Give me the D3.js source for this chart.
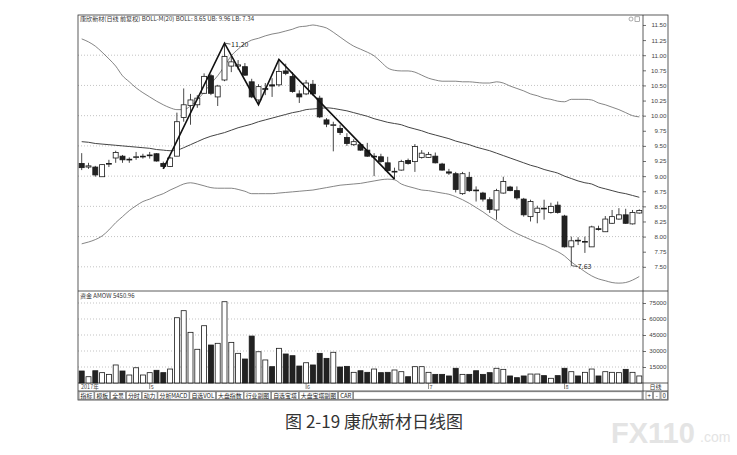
<!DOCTYPE html>
<html><head><meta charset="utf-8">
<script src="https://cdn.jsdelivr.net/npm/d3@7"></script>
<style>
body{margin:0;background:#fff;}
svg{display:block;font-family:"Noto Sans CJK SC","Noto Sans",sans-serif;}
</style>
</head><body>
<svg id="c" width="737" height="455"></svg>
<script>
// ---------------- data ----------------
const opens  = [9.21,9.15,9.15,8.99,9.20,9.30,9.33,9.27,9.31,9.32,
  9.34,9.37,9.21,9.16,9.33,9.97,10.17,10.18,10.37,10.66,
  10.31,10.59,10.82,10.82,10.81,10.56,10.26,10.43,10.51,10.51,
  10.74,10.65,10.36,10.36,10.52,10.29,9.93,9.84,9.79,9.64,
  9.52,9.52,9.43,9.32,9.32,9.22,9.07,9.10,9.26,9.24,
  9.31,9.31,9.33,9.20,9.07,9.04,8.71,8.98,8.77,8.72,
  8.61,8.44,8.72,8.82,8.76,8.62,8.33,8.40,8.47,8.40,
  8.52,8.34,7.83,7.94,7.91,7.83,8.13,8.08,8.22,8.29,
  8.36,8.21,8.39];
const closes = [9.14,9.17,9.02,9.19,9.21,9.39,9.27,9.28,9.32,9.33,
  9.35,9.25,9.16,9.30,9.90,10.18,10.26,10.29,10.65,10.37,
  10.49,10.98,10.89,10.84,10.67,10.31,10.48,10.45,10.49,10.73,
  10.70,10.40,10.31,10.54,10.36,9.98,9.86,9.85,9.72,9.54,
  9.57,9.43,9.33,9.33,9.24,9.09,9.08,9.24,9.21,9.49,
  9.38,9.36,9.22,9.10,9.05,8.78,9.04,8.76,8.76,8.62,
  8.45,8.76,8.91,8.76,8.64,8.36,8.58,8.47,8.46,8.50,
  8.40,7.83,7.93,7.93,7.92,8.16,8.12,8.29,8.33,8.36,
  8.22,8.40,8.43];
const highs  = [9.38,9.22,9.17,9.20,9.27,9.42,9.35,9.31,9.40,9.37,
  9.40,9.38,9.24,9.32,10.05,10.45,10.36,10.34,10.70,10.69,
  10.51,11.20,10.97,10.92,10.87,10.61,10.52,10.54,10.62,10.93,
  10.86,10.72,10.42,10.59,10.59,10.33,9.96,9.90,9.85,9.71,
  9.61,9.55,9.55,9.38,9.37,9.32,9.14,9.27,9.29,9.53,
  9.43,9.40,9.39,9.22,9.12,9.07,9.07,9.07,8.83,8.74,
  8.65,8.79,8.99,8.84,8.83,8.64,8.61,8.51,8.61,8.56,
  8.58,8.36,8.00,7.99,8.00,8.18,8.18,8.34,8.44,8.47,
  8.46,8.44,8.45];
const lows   = [9.10,9.12,8.99,8.99,9.15,9.22,9.22,9.22,9.27,9.29,
  9.29,9.24,9.12,9.15,9.33,9.90,9.85,10.13,10.36,10.34,
  10.16,10.57,10.72,10.76,10.66,10.29,10.18,10.34,10.31,10.48,
  10.67,10.38,10.21,10.34,10.33,9.96,9.81,9.41,9.68,9.50,
  9.50,9.42,9.32,9.00,9.22,9.05,8.95,9.09,9.19,9.07,
  9.29,9.30,9.21,9.09,9.02,8.73,8.69,8.74,8.58,8.58,
  8.39,8.28,8.71,8.75,8.61,8.33,8.25,8.22,8.28,8.38,
  8.38,7.82,7.52,7.86,7.73,7.83,8.10,8.08,8.21,8.28,
  8.21,8.20,8.38];
const volumes = [11250,5900,11500,9700,8100,16900,11250,7500,14300,7500,
  9700,11900,9700,13100,61200,67800,47500,31600,53700,35600,
  37200,76200,38100,27800,22500,44000,29300,21600,15300,32500,
  27200,25600,15900,19000,16900,27800,23100,28800,15000,15600,
  10000,11500,10000,13100,9700,10000,12200,10600,5900,15300,
  15300,10000,8100,8100,6600,13800,8100,8100,11500,8100,
  9700,13800,12800,6600,5000,6600,8400,8400,6900,4400,
  6900,13800,10600,6600,10000,13100,6600,10600,10000,9700,
  12800,10000,6600];
const bollUpper = [11.27,11.22,11.15,11.05,10.94,10.82,10.66,10.56,10.46,10.38,
  10.31,10.24,10.18,10.13,10.10,10.10,10.16,10.26,10.39,10.53,
  10.66,10.82,10.99,11.10,11.19,11.25,11.28,11.32,11.35,11.37,
  11.40,11.43,11.47,11.48,11.50,11.48,11.45,11.38,11.30,11.22,
  11.15,11.10,11.05,10.99,10.89,10.79,10.75,10.74,10.74,10.72,
  10.67,10.62,10.59,10.57,10.57,10.57,10.56,10.56,10.55,10.54,
  10.54,10.56,10.54,10.49,10.45,10.41,10.36,10.33,10.29,10.27,
  10.24,10.23,10.27,10.27,10.27,10.26,10.21,10.18,10.14,10.10,
  10.05,10.00,9.98];
const bollMid = [9.57,9.56,9.54,9.53,9.52,9.51,9.50,9.49,9.48,9.47,
  9.46,9.44,9.43,9.42,9.43,9.47,9.52,9.57,9.62,9.66,
  9.69,9.72,9.76,9.80,9.83,9.86,9.90,9.93,9.96,9.99,
  10.02,10.05,10.07,10.10,10.11,10.12,10.13,10.12,10.10,10.08,
  10.05,10.02,9.99,9.95,9.92,9.89,9.87,9.85,9.81,9.78,
  9.75,9.71,9.68,9.65,9.62,9.58,9.55,9.52,9.48,9.45,
  9.42,9.38,9.34,9.30,9.26,9.22,9.18,9.15,9.11,9.08,
  9.05,9.00,8.96,8.92,8.89,8.87,8.82,8.79,8.76,8.73,
  8.71,8.68,8.65];
const bollLower = [7.88,7.91,7.95,8.01,8.11,8.23,8.33,8.43,8.51,8.58,
  8.62,8.67,8.71,8.77,8.82,8.87,8.89,8.87,8.84,8.81,
  8.80,8.80,8.80,8.78,8.75,8.71,8.71,8.71,8.71,8.72,
  8.73,8.74,8.75,8.76,8.77,8.79,8.81,8.83,8.85,8.86,
  8.87,8.88,8.90,8.92,8.94,8.95,8.94,8.87,8.83,8.80,
  8.77,8.76,8.74,8.72,8.70,8.66,8.61,8.55,8.48,8.41,
  8.33,8.26,8.18,8.11,8.05,8.00,7.95,7.90,7.86,7.80,
  7.75,7.68,7.58,7.50,7.42,7.35,7.30,7.27,7.24,7.23,
  7.24,7.28,7.34];
const zigzag = [[12,9.12],[21,11.20],[26,10.18],[29,10.93],[46,8.95]];
const priceTicks = [11.50,11.25,11.00,10.75,10.50,10.25,10.00,9.75,9.50,9.25,9.00,8.75,8.50,8.25,8.00,7.75,7.50];
const priceGrid = [11.0,10.5,10.0,9.5,9.0,8.5,8.0,7.5];
const volTicks = [75000,60000,45000,30000,15000];
const monthLabels = [{i:10,t:"5"},{i:33,t:"6"},{i:51,t:"7"},{i:71,t:"8"}];
const tabLabels = ["指标","模板","全景","分时","动力","分析MACD","自选VOL","大盘指数","行业副图","自选宝塔","大盘宝塔副图","CAR"];
const headerText = "康欣新材(日线 前复权) BOLL-M(20) BOLL: 8.65 UB: 9.96 LB: 7.34";
const volHeader = "资金 AMOW 5450.96";
const highLabel = {i:21, v:11.20, t:"11.20"};
const lowLabel = {i:72, v:7.52, t:"7.63"};
const caption = "图 2-19  康欣新材日线图";

// ---------------- layout ----------------
const L = 78, R = 668, AX = 643, TOP = 15, SEP = 291, VB = 383, DR = 391, BOT = 400;
const svg = d3.select("#c");
const n = closes.length;
const x = d3.scaleLinear().domain([0, n-1]).range([81.7, 639.3]);
const yP = d3.scaleLinear().domain([7.10, 11.665]).range([SEP, TOP]);
const yV = d3.scaleLinear().domain([0, 86250]).range([VB, SEP]);
const ink = "#1a1a1a";

const defs = svg.append("defs");
defs.append("clipPath").attr("id","clipP").append("rect")
  .attr("x",L).attr("y",TOP).attr("width",AX-L).attr("height",SEP-TOP);

// gridlines
svg.append("g").selectAll("line").data(priceGrid).join("line")
  .attr("x1",L).attr("x2",AX).attr("y1",d=>yP(d)).attr("y2",d=>yP(d))
  .attr("stroke","#9a9a9a").attr("stroke-width",0.6).attr("stroke-dasharray","1,2");
svg.append("g").selectAll("line").data(volTicks).join("line")
  .attr("x1",L).attr("x2",AX).attr("y1",d=>yV(d)).attr("y2",d=>yV(d))
  .attr("stroke","#9a9a9a").attr("stroke-width",0.6).attr("stroke-dasharray","1,2");

// frames
const fr = svg.append("g").attr("fill","none").attr("stroke","#333").attr("stroke-width",0.8);
fr.append("rect").attr("x",L).attr("y",TOP).attr("width",R-L).attr("height",BOT-TOP);
fr.append("line").attr("x1",L).attr("x2",R).attr("y1",SEP).attr("y2",SEP);
fr.append("line").attr("x1",L).attr("x2",R).attr("y1",VB).attr("y2",VB);
fr.append("line").attr("x1",L).attr("x2",R).attr("y1",DR).attr("y2",DR);

// price plot
const gp = svg.append("g").attr("clip-path","url(#clipP)");
const line = d3.line().x((d,i)=>x(i)).y(d=>yP(d)).curve(d3.curveMonotoneX);
gp.append("path").attr("d",line(bollUpper)).attr("fill","none").attr("stroke","#666").attr("stroke-width",0.8);
gp.append("path").attr("d",line(bollLower)).attr("fill","none").attr("stroke","#666").attr("stroke-width",0.8);
gp.append("path").attr("d",line(bollMid)).attr("fill","none").attr("stroke","#444").attr("stroke-width",1);

const cw = 5;
d3.range(n).forEach(i=>{
  const o=opens[i], c=closes[i], up=c>=o, cx=x(i);
  gp.append("line").attr("x1",cx).attr("x2",cx).attr("y1",yP(highs[i])).attr("y2",yP(lows[i]))
    .attr("stroke",ink).attr("stroke-width",0.8);
  const yt=yP(Math.max(o,c)), yb=yP(Math.min(o,c));
  gp.append("rect").attr("x",cx-cw/2).attr("y",yt).attr("width",cw).attr("height",Math.max(0.8,yb-yt))
    .attr("fill",up?"#fff":"#222").attr("stroke",ink).attr("stroke-width",0.8);
});

// zigzag
gp.append("path").attr("d",d3.line().x(d=>x(d[0])).y(d=>yP(d[1]))(zigzag))
  .attr("fill","none").attr("stroke","#111").attr("stroke-width",1.6).attr("stroke-linejoin","miter");

// high / low labels
[highLabel, lowLabel].forEach(a=>{
  const ax=x(a.i), ay=yP(a.v);
  svg.append("line").attr("x1",ax).attr("x2",ax+6).attr("y1",ay).attr("y2",ay+1)
    .attr("stroke","#222").attr("stroke-width",0.7);
  svg.append("text").attr("x",ax+6.5).attr("y",ay+3.5).attr("font-size",7).attr("fill","#222").text(a.t);
});

// volume bars
svg.append("g").selectAll("rect").data(volumes).join("rect")
  .attr("x",(d,i)=>x(i)-cw/2).attr("y",d=>yV(d)).attr("width",cw).attr("height",d=>VB-yV(d))
  .attr("fill",(d,i)=>closes[i]>=opens[i]?"#fff":"#222").attr("stroke",ink).attr("stroke-width",0.8);

// right axes
const axP = svg.append("g").attr("transform",`translate(${AX},0)`)
  .call(d3.axisRight(yP).tickValues(priceTicks).tickSize(3).tickFormat(d3.format(".2f")));
const axV = svg.append("g").attr("transform",`translate(${AX},0)`)
  .call(d3.axisRight(yV).tickValues(volTicks).tickSize(3).tickFormat(d3.format("d")));
[axP, axV].forEach(a=>{
  a.select(".domain").remove();
  a.selectAll("line").attr("stroke","#333").attr("stroke-width",0.7);
  a.selectAll("text").attr("x",23.5).attr("text-anchor","end").attr("font-size",6.2).attr("fill","#444")
    .attr("font-family","'Liberation Sans',Arial,sans-serif");
});
svg.append("line").attr("x1",AX).attr("x2",AX).attr("y1",TOP).attr("y2",BOT)
  .attr("stroke","#333").attr("stroke-width",0.8);

// headers
svg.append("text").attr("x",L+2).attr("y",TOP+6).attr("font-size",6.1).attr("fill","#333").text(headerText);
svg.append("text").attr("x",L+2).attr("y",SEP+7).attr("font-size",6).attr("fill","#333").text(volHeader);
svg.append("circle").attr("cx",631).attr("cy",TOP+4).attr("r",2).attr("fill","none").attr("stroke","#777").attr("stroke-width",0.6);
svg.append("rect").attr("x",635).attr("y",TOP+1.8).attr("width",4.5).attr("height",4.5).attr("fill","none").attr("stroke","#777").attr("stroke-width",0.6);

// date row
svg.append("text").attr("x",L+3).attr("y",DR-1.8).attr("font-size",5.5).attr("fill","#444").text("2017年");
monthLabels.forEach(m=>{
  svg.append("line").attr("x1",x(m.i)).attr("x2",x(m.i)).attr("y1",VB).attr("y2",DR-2).attr("stroke","#444").attr("stroke-width",0.6);
  svg.append("text").attr("x",x(m.i)+1).attr("y",DR-1.8).attr("font-size",5.5).attr("fill","#444").text(m.t);
});
svg.append("text").attr("x",(AX+R)/2).attr("y",DR-1.8).attr("font-size",6).attr("text-anchor","middle").attr("fill","#333").text("日线");

// tabs
let tx = L + 1;
tabLabels.forEach(t=>{
  const tt = svg.append("text").attr("x",tx+1.6).attr("y",BOT-2.2).attr("font-size",5.9).attr("fill","#222").text(t);
  const w = tt.node().getComputedTextLength() + 3.2;
  svg.append("rect").attr("x",tx).attr("y",DR+0.8).attr("width",w).attr("height",BOT-DR-1.6)
    .attr("fill","none").attr("stroke","#555").attr("stroke-width",0.6);
  tx += w + 0.8;
});
svg.append("rect").attr("x",tx).attr("y",DR+0.8).attr("width",AX-tx-1).attr("height",BOT-DR-1.6)
  .attr("fill","none").attr("stroke","#555").attr("stroke-width",0.6);
["+","-","0"].forEach((s,k)=>{
  const bx = AX + 3 + k*7.5;
  svg.append("rect").attr("x",bx).attr("y",DR+0.8).attr("width",6.5).attr("height",BOT-DR-1.6)
    .attr("fill","none").attr("stroke","#555").attr("stroke-width",0.6);
  svg.append("text").attr("x",bx+3.25).attr("y",BOT-2.2).attr("font-size",6).attr("text-anchor","middle").attr("fill","#222").text(s);
});

// caption
svg.append("text").attr("x",374).attr("y",428).attr("font-size",17).attr("text-anchor","middle")
  .attr("fill","#333").text(caption);

// watermark
svg.append("text").attr("x",611).attr("y",443).attr("font-size",29).attr("font-weight","bold")
  .attr("font-family","'Liberation Sans',Arial,sans-serif").attr("fill","#e4e4e4").text("FX110");
svg.append("text").attr("x",700).attr("y",442).attr("font-size",14)
  .attr("font-family","'Liberation Sans',Arial,sans-serif").attr("fill","#e4e4e4").text(".com");
</script>
</body></html>
